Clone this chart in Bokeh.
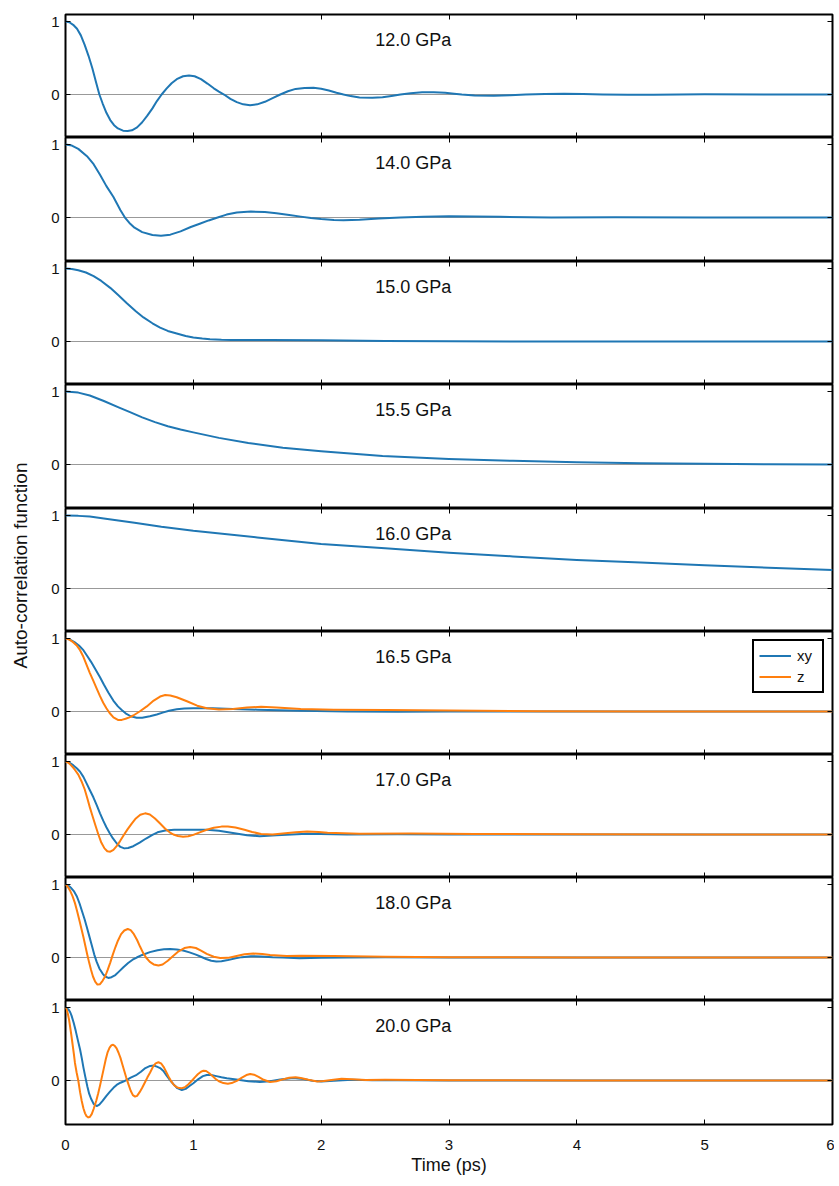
from math import pi
from bokeh.plotting import figure
from bokeh.layouts import column, row
from bokeh.models import Range1d, LinearAxis, FixedTicker, Grid, Label
from bokeh.embed import file_html
from bokeh.resources import INLINE

# ---------------- data ----------------
pressures = ["12.0 GPa", "14.0 GPa", "15.0 GPa", "15.5 GPa", "16.0 GPa",
             "16.5 GPa", "17.0 GPa", "18.0 GPa", "20.0 GPa"]
x_ticks = [0, 1, 2, 3, 4, 5, 6]
y_ticks = [0, 1]
series_names = ["xy", "z"]

t_120 = [0, 0.03, 0.06, 0.09, 0.12, 0.15, 0.18, 0.21, 0.24, 0.265, 0.29, 0.32, 0.35, 0.38, 0.41, 0.45, 0.486, 0.52,
         0.56, 0.6, 0.64, 0.68, 0.715, 0.752, 0.79, 0.83, 0.87, 0.92, 0.966, 1.01, 1.06, 1.11, 1.16, 1.2, 1.24, 1.29,
         1.34, 1.39, 1.444, 1.5, 1.56, 1.62, 1.68, 1.74, 1.8, 1.87, 1.94, 2.0, 2.06, 2.12, 2.175, 2.23, 2.3, 2.4,
         2.48, 2.55, 2.62, 2.7, 2.79, 2.88, 2.97, 3.04, 3.1, 3.2, 3.35, 3.48, 3.6, 3.75, 3.9, 4.05, 4.2, 4.4, 4.6,
         4.8, 5.0, 5.5, 6.0]
acf_120 = [1.0, 0.99, 0.955, 0.90, 0.81, 0.68, 0.53, 0.36, 0.16, 0.0, -0.12, -0.25, -0.35, -0.42, -0.465, -0.495, -0.50,
           -0.49, -0.45, -0.38, -0.29, -0.19, -0.09, 0.0, 0.08, 0.155, 0.21, 0.25, 0.26, 0.25, 0.21, 0.15, 0.085, 0.04,
           0.0, -0.06, -0.105, -0.135, -0.146, -0.135, -0.10, -0.05, 0.0, 0.045, 0.077, 0.09, 0.091, 0.08, 0.055, 0.025,
           0.0, -0.022, -0.04, -0.046, -0.038, -0.02, 0.0, 0.018, 0.03, 0.032, 0.025, 0.012, 0.0, -0.012, -0.018,
           -0.01, 0.0, 0.008, 0.01, 0.006, 0.0, -0.004, -0.003, 0.0, 0.002, 0.0, 0.0]

t_140 = [0, 0.05, 0.1, 0.168, 0.22, 0.27, 0.32, 0.374, 0.40, 0.43, 0.465, 0.5, 0.54, 0.6, 0.68, 0.747, 0.82, 0.9, 0.98,
         1.05, 1.12, 1.19, 1.26, 1.34, 1.45, 1.56, 1.65, 1.75, 1.84, 1.92, 2.0, 2.1, 2.175, 2.3, 2.45, 2.62, 2.8, 3.0,
         3.2, 3.4, 3.8, 4.3, 5.0, 6.0]
acf_140 = [1.0, 0.985, 0.94, 0.84, 0.73, 0.585, 0.43, 0.285, 0.2, 0.1, 0.0, -0.075, -0.14, -0.2, -0.24, -0.25, -0.235,
           -0.19, -0.13, -0.085, -0.04, 0.0, 0.04, 0.07, 0.082, 0.075, 0.058, 0.035, 0.012, -0.008, -0.022, -0.033,
           -0.037, -0.03, -0.015, 0.0, 0.012, 0.018, 0.015, 0.01, 0.0, 0.003, 0.0, 0.0]

t_150 = [0, 0.05, 0.1, 0.16, 0.22, 0.28, 0.35, 0.41, 0.48, 0.55, 0.61, 0.68, 0.74, 0.8, 0.87, 0.94, 1.0, 1.07, 1.13,
         1.22, 1.3, 1.6, 2.0, 2.5, 3.0, 4.0, 5.0, 6.0]
acf_150 = [1.0, 0.993, 0.975, 0.945, 0.895, 0.83, 0.735, 0.64, 0.525, 0.415, 0.33, 0.25, 0.19, 0.145, 0.11, 0.075, 0.055,
           0.04, 0.03, 0.023, 0.02, 0.02, 0.018, 0.008, 0.002, 0.0, 0.0, 0.0]

t_155 = [0, 0.1, 0.19, 0.3, 0.42, 0.5, 0.6, 0.7, 0.8, 0.9, 1.0, 1.2, 1.43, 1.7, 2.0, 2.48, 3.0, 3.5, 4.0, 4.5, 5.0,
         5.5, 6.0]
acf_155 = [1.0, 0.985, 0.945, 0.87, 0.78, 0.72, 0.645, 0.58, 0.525, 0.48, 0.44, 0.365, 0.295, 0.23, 0.18, 0.115, 0.076,
           0.05, 0.03, 0.018, 0.01, 0.004, 0.0]

t_160 = [0, 0.1, 0.19, 0.3, 0.54, 0.75, 1.0, 1.5, 2.0, 2.5, 3.0, 3.5, 4.0, 4.5, 5.0, 5.5, 6.0]
acf_160 = [1.0, 0.995, 0.985, 0.96, 0.90, 0.845, 0.79, 0.70, 0.61, 0.55, 0.49, 0.44, 0.39, 0.355, 0.32, 0.285, 0.255]

t_165_xy = [0, 0.035, 0.07, 0.105, 0.14, 0.17, 0.2, 0.235, 0.27, 0.3, 0.335, 0.374, 0.41, 0.44, 0.47, 0.51, 0.557, 0.6,
            0.66, 0.714, 0.76, 0.81, 0.87, 0.93, 1.0, 1.15, 1.31, 1.5, 1.84, 2.2, 2.6, 3.0, 4.0, 5.0, 6.0]
acf_165_xy = [1.0, 0.985, 0.95, 0.905, 0.84, 0.76, 0.68, 0.575, 0.47, 0.37, 0.26, 0.15, 0.07, 0.02, -0.025, -0.065,
              -0.085, -0.085, -0.065, -0.04, -0.015, 0.01, 0.03, 0.04, 0.045, 0.045, 0.035, 0.025, 0.012, 0.0, -0.005,
              0.0, 0.0, 0.0, 0.0]
t_165_z = [0, 0.03, 0.06, 0.09, 0.114, 0.14, 0.165, 0.19, 0.218, 0.245, 0.27, 0.295, 0.32, 0.345, 0.375, 0.41, 0.44,
           0.47, 0.5, 0.53, 0.58, 0.636, 0.69, 0.74, 0.78, 0.82, 0.87, 0.95, 1.03, 1.105, 1.2, 1.31, 1.42, 1.53, 1.65,
           1.84, 2.1, 2.5, 3.0, 3.7, 4.5, 5.0, 6.0]
acf_165_z = [1.0, 0.985, 0.95, 0.9, 0.84, 0.75, 0.64, 0.53, 0.42, 0.31, 0.21, 0.12, 0.045, -0.02, -0.08, -0.115, -0.115,
             -0.10, -0.08, -0.055, 0.0, 0.07, 0.15, 0.205, 0.225, 0.22, 0.195, 0.14, 0.08, 0.045, 0.028, 0.035, 0.055,
             0.065, 0.055, 0.035, 0.025, 0.02, 0.015, 0.005, 0.0, 0.0, 0.0]

t_170_xy = [0, 0.03, 0.06, 0.09, 0.114, 0.14, 0.165, 0.19, 0.218, 0.245, 0.27, 0.295, 0.32, 0.345, 0.37, 0.4, 0.43,
            0.46, 0.49, 0.53, 0.58, 0.63, 0.68, 0.72, 0.78, 0.85, 1.0, 1.105, 1.2, 1.31, 1.42, 1.52, 1.65, 1.89, 2.2,
            2.6, 3.0, 4.0, 5.0, 6.0]
acf_170_xy = [1.0, 0.985, 0.95, 0.905, 0.86, 0.79, 0.70, 0.61, 0.51, 0.40, 0.29, 0.19, 0.10, 0.02, -0.05, -0.12, -0.17,
              -0.19, -0.185, -0.16, -0.11, -0.055, -0.005, 0.03, 0.055, 0.064, 0.066, 0.065, 0.05, 0.02, -0.01, -0.023,
              -0.01, 0.012, 0.0, 0.005, 0.0, 0.0, 0.0, 0.0]
t_170_z = [0, 0.02, 0.04, 0.06, 0.08, 0.1, 0.125, 0.15, 0.17, 0.19, 0.21, 0.235, 0.257, 0.28, 0.305, 0.327, 0.35,
           0.375, 0.4, 0.427, 0.455, 0.485, 0.518, 0.55, 0.585, 0.623, 0.66, 0.7, 0.74, 0.78, 0.815, 0.844, 0.88, 0.92,
           0.96, 1.0, 1.05, 1.105, 1.16, 1.22, 1.27, 1.33, 1.4, 1.46, 1.53, 1.62, 1.72, 1.8, 1.89, 1.98, 2.05, 2.3,
           2.7, 3.2, 4.0, 5.0, 6.0]
acf_170_z = [1.0, 0.985, 0.955, 0.915, 0.87, 0.82, 0.73, 0.62, 0.50, 0.375, 0.26, 0.12, 0.0, -0.11, -0.19, -0.23,
             -0.235, -0.21, -0.16, -0.09, -0.01, 0.07, 0.15, 0.22, 0.27, 0.29, 0.275, 0.22, 0.15, 0.08, 0.03, 0.0, -0.02,
             -0.03, -0.025, -0.005, 0.03, 0.065, 0.092, 0.108, 0.11, 0.095, 0.065, 0.035, 0.008, 0.0, 0.018, 0.032,
             0.04, 0.035, 0.025, 0.01, 0.015, 0.008, 0.003, 0.0, 0.0]

t_180_xy = [0, 0.02, 0.04, 0.065, 0.088, 0.11, 0.13, 0.15, 0.166, 0.185, 0.205, 0.225, 0.244, 0.265, 0.29, 0.31,
            0.335, 0.36, 0.39, 0.42, 0.453, 0.49, 0.525, 0.557, 0.6, 0.66, 0.72, 0.77, 0.818, 0.87, 0.92, 0.97, 1.02,
            1.06, 1.1, 1.14, 1.18, 1.22, 1.27, 1.33, 1.38, 1.45, 1.53, 1.62, 1.7, 1.83, 2.0, 2.2, 2.5, 3.0, 4.0, 5.0,
            6.0]
acf_180_xy = [1.0, 0.99, 0.96, 0.91, 0.84, 0.74, 0.63, 0.52, 0.42, 0.30, 0.17, 0.04, -0.06, -0.15, -0.22, -0.26, -0.28,
              -0.27, -0.24, -0.19, -0.134, -0.075, -0.03, 0.0, 0.035, 0.074, 0.1, 0.112, 0.116, 0.11, 0.095, 0.07, 0.04,
              0.01, -0.02, -0.045, -0.055, -0.05, -0.035, -0.012, 0.005, 0.018, 0.015, 0.005, 0.0, -0.01, -0.005, 0.0,
              0.005, 0.0, 0.0, 0.0, 0.0]
t_180_z = [0, 0.015, 0.035, 0.055, 0.074, 0.09, 0.11, 0.125, 0.14, 0.155, 0.17, 0.185, 0.2, 0.215, 0.232, 0.25, 0.27,
           0.29, 0.31, 0.33, 0.35, 0.37, 0.39, 0.41, 0.435, 0.46, 0.487, 0.51, 0.535, 0.56, 0.583, 0.605, 0.63, 0.66,
           0.69, 0.727, 0.76, 0.8, 0.844, 0.885, 0.93, 0.975, 1.02, 1.06, 1.105, 1.16, 1.21, 1.27, 1.33, 1.4, 1.47,
           1.54, 1.6, 1.73, 1.84, 2.1, 2.5, 3.0, 4.0, 5.0, 6.0]
acf_180_z = [1.0, 0.975, 0.92, 0.84, 0.745, 0.64, 0.50, 0.39, 0.28, 0.16, 0.04, -0.07, -0.17, -0.26, -0.33, -0.37,
             -0.365, -0.32, -0.26, -0.17, -0.07, 0.04, 0.14, 0.23, 0.32, 0.37, 0.39, 0.375, 0.32, 0.24, 0.15, 0.07, 0.0,
             -0.06, -0.095, -0.11, -0.095, -0.045, 0.025, 0.085, 0.13, 0.144, 0.13, 0.095, 0.05, 0.01, -0.008, -0.005,
             0.018, 0.045, 0.055, 0.048, 0.035, 0.02, 0.025, 0.02, 0.01, 0.005, 0.0, 0.0, 0.0]

t_200_xy = [0, 0.012, 0.025, 0.037, 0.048, 0.064, 0.08, 0.097, 0.114, 0.128, 0.14, 0.155, 0.171, 0.185, 0.2, 0.22,
            0.244, 0.265, 0.29, 0.32, 0.348, 0.375, 0.4, 0.43, 0.453, 0.48, 0.51, 0.557, 0.59, 0.625, 0.662, 0.69,
            0.715, 0.74, 0.766, 0.79, 0.815, 0.844, 0.875, 0.91, 0.94, 0.97, 1.0, 1.04, 1.075, 1.105, 1.14, 1.18,
            1.22, 1.262, 1.35, 1.43, 1.52, 1.6, 1.68, 1.78, 1.86, 1.93, 2.0, 2.1, 2.24, 2.4, 2.6, 3.0, 4.0, 5.0, 6.0]
acf_200_xy = [1.0, 0.99, 0.97, 0.935, 0.885, 0.79, 0.68, 0.55, 0.424, 0.30, 0.18, 0.05, -0.083, -0.18, -0.25, -0.32,
              -0.35, -0.33, -0.28, -0.21, -0.152, -0.10, -0.06, -0.03, -0.014, 0.01, 0.04, 0.078, 0.12, 0.17, 0.20,
              0.205, 0.19, 0.17, 0.13, 0.07, 0.01, -0.05, -0.105, -0.13, -0.115, -0.075, -0.037, 0.02, 0.06, 0.075,
              0.075, 0.06, 0.045, 0.032, 0.01, -0.01, -0.02, -0.01, 0.015, 0.035, 0.02, -0.002, -0.012, -0.005, 0.01,
              0.005, 0.005, 0.0, 0.0, 0.0, 0.0]
t_200_z = [0, 0.01, 0.02, 0.028, 0.035, 0.045, 0.055, 0.065, 0.074, 0.087, 0.1, 0.114, 0.127, 0.14, 0.153, 0.165,
           0.178, 0.19, 0.205, 0.22, 0.24, 0.255, 0.27, 0.285, 0.3, 0.315, 0.33, 0.345, 0.36, 0.372, 0.385, 0.4, 0.415,
           0.43, 0.445, 0.46, 0.475, 0.492, 0.51, 0.527, 0.544, 0.56, 0.58, 0.6, 0.62, 0.64, 0.662, 0.685, 0.705,
           0.727, 0.75, 0.77, 0.79, 0.81, 0.83, 0.85, 0.87, 0.89, 0.91, 0.935, 0.96, 0.985, 1.01, 1.035, 1.06, 1.08,
           1.1, 1.125, 1.15, 1.175, 1.2, 1.235, 1.27, 1.3, 1.34, 1.38, 1.415, 1.445, 1.475, 1.51, 1.55, 1.6, 1.65,
           1.7, 1.75, 1.8, 1.84, 1.9, 1.97, 2.02, 2.08, 2.16, 2.24, 2.35, 2.5, 3.0, 4.0, 5.0, 6.0]
acf_200_z = [1.0, 0.97, 0.90, 0.83, 0.75, 0.63, 0.50, 0.37, 0.24, 0.11, 0.0, -0.16, -0.28, -0.38, -0.45, -0.49, -0.505,
             -0.5, -0.46, -0.39, -0.28, -0.18, -0.07, 0.05, 0.17, 0.29, 0.39, 0.45, 0.485, 0.49, 0.475, 0.44, 0.38, 0.31,
             0.22, 0.13, 0.04, -0.05, -0.14, -0.2, -0.22, -0.21, -0.16, -0.1, -0.03, 0.04, 0.11, 0.19, 0.235, 0.25,
             0.23, 0.18, 0.11, 0.04, -0.02, -0.065, -0.09, -0.104, -0.106, -0.09, -0.055, -0.01, 0.04, 0.085, 0.12,
             0.135, 0.13, 0.1, 0.06, 0.02, -0.01, -0.035, -0.045, -0.035, -0.005, 0.04, 0.075, 0.09, 0.08, 0.05, 0.01,
             -0.02, -0.01, 0.015, 0.038, 0.046, 0.035, 0.01, -0.014, -0.008, 0.008, 0.023, 0.016, 0.008, 0.01, 0.005,
             0.0, 0.0, 0.0]

# ---------------- styling ----------------
BLUE = "#1f77b4"
ORANGE = "#ff7f0e"
FONT = "Liberation Sans"
PX_PER_UNIT = 73.0
Y_TOP = 1.096
frame_heights = [123, 124, 123, 124, 123, 123, 123, 123, 124]
FRAME_W = 767
LEFT_FIG_W = 38
BORDER_L = 27
BORDER_R = 2
TOP_PAD = 14
BOTTOM_PAD = 56

panels = [
    [(t_120, acf_120, BLUE, None)],
    [(t_140, acf_140, BLUE, None)],
    [(t_150, acf_150, BLUE, None)],
    [(t_155, acf_155, BLUE, None)],
    [(t_160, acf_160, BLUE, None)],
    [(t_165_xy, acf_165_xy, BLUE, series_names[0]), (t_165_z, acf_165_z, ORANGE, series_names[1])],
    [(t_170_xy, acf_170_xy, BLUE, None), (t_170_z, acf_170_z, ORANGE, None)],
    [(t_180_xy, acf_180_xy, BLUE, None), (t_180_z, acf_180_z, ORANGE, None)],
    [(t_200_xy, acf_200_xy, BLUE, None), (t_200_z, acf_200_z, ORANGE, None)],
]


def style_axis(ax, ticks, show_labels, standoff=12):
    ax.ticker = FixedTicker(ticks=ticks)
    ax.major_tick_in = 5
    ax.major_tick_out = 0
    ax.minor_tick_in = 0
    ax.minor_tick_out = 0
    ax.major_tick_line_color = "black"
    ax.major_tick_line_width = 1
    ax.axis_line_color = None
    ax.major_label_text_font = FONT
    if show_labels:
        ax.major_label_text_color = "#111111"
        ax.major_label_text_font_size = "15px"
        ax.major_label_standoff = standoff
    else:
        ax.major_label_text_color = None
        ax.major_label_text_alpha = 0
        ax.major_label_standoff = 0


figs = []
n = len(panels)
for i, (curves, label) in enumerate(zip(panels, pressures)):
    fh = frame_heights[i]
    top = TOP_PAD if i == 0 else 0
    bottom = BOTTOM_PAD if i == n - 1 else 0
    y_lo = Y_TOP - fh / PX_PER_UNIT
    p = figure(width=BORDER_L + FRAME_W + BORDER_R, height=fh + top + bottom,
               x_range=Range1d(0, 6), y_range=Range1d(y_lo, Y_TOP),
               x_axis_location=None, y_axis_location=None,
               toolbar_location=None, output_backend="svg",
               min_border_left=BORDER_L, min_border_right=BORDER_R,
               min_border_top=top, min_border_bottom=bottom)
    p.outline_line_color = "black"
    p.outline_line_width = 2
    p.xgrid.visible = False
    p.ygrid.visible = False
    p.background_fill_color = "white"
    p.border_fill_color = "white"

    bx = LinearAxis()
    style_axis(bx, x_ticks, i == n - 1, standoff=15)
    if i == n - 1:
        bx.axis_label = "Time (ps)"
        bx.axis_label_text_font = FONT
        bx.axis_label_text_font_size = "18px"
        bx.axis_label_text_font_style = "normal"
        bx.axis_label_text_color = "#111111"
        bx.axis_label_standoff = 2
    p.add_layout(bx, "below")
    tx = LinearAxis()
    style_axis(tx, x_ticks, False)
    p.add_layout(tx, "above")
    ly = LinearAxis()
    style_axis(ly, y_ticks, True, standoff=6)
    p.add_layout(ly, "left")
    ry = LinearAxis()
    style_axis(ry, y_ticks, False)
    p.add_layout(ry, "right")

    zero = Grid(dimension=1, ticker=FixedTicker(ticks=[0]))
    zero.grid_line_color = "#999999"
    zero.grid_line_width = 1
    p.add_layout(zero)

    for (t, v, c, name) in curves:
        if name is not None:
            p.line(t, v, line_color=c, line_width=2, line_join="round", legend_label=name)
        else:
            p.line(t, v, line_color=c, line_width=2, line_join="round")

    p.add_layout(Label(x=2.72, y=0.75, text=label, text_align="center", text_baseline="middle",
                       text_font=FONT, text_font_size="18px", text_color="#111111"))

    if p.legend:
        lg = p.legend[0]
        lg.location = "top_right"
        lg.margin = 8
        lg.border_line_color = "black"
        lg.border_line_alpha = 1.0
        lg.border_line_width = 2
        lg.label_text_font = FONT
        lg.label_text_font_size = "15px"
        lg.label_text_color = "#111111"
        lg.glyph_width = 32
        lg.glyph_height = 19
        lg.label_height = 19
        lg.label_standoff = 6
        lg.padding = 5
        lg.spacing = 2
        lg.background_fill_alpha = 1.0
    figs.append(p)

total_h = TOP_PAD + sum(frame_heights) + BOTTOM_PAD
lab = figure(width=LEFT_FIG_W, height=total_h, x_range=Range1d(0, 1), y_range=Range1d(0, 1),
             x_axis_location=None, y_axis_location=None, toolbar_location=None,
             output_backend="svg", min_border=0)
lab.outline_line_color = None
lab.xgrid.visible = False
lab.ygrid.visible = False
lab.add_layout(Label(x=20, y=total_h - 565, x_units="screen", y_units="screen",
                     text="Auto-correlation function", angle=pi / 2, text_align="center",
                     text_baseline="middle", text_font=FONT, text_font_size="19px", text_color="#111111"))

layout = row(lab, column(*figs, spacing=0), spacing=0)
open("out.html", "w").write(file_html(layout, INLINE))
